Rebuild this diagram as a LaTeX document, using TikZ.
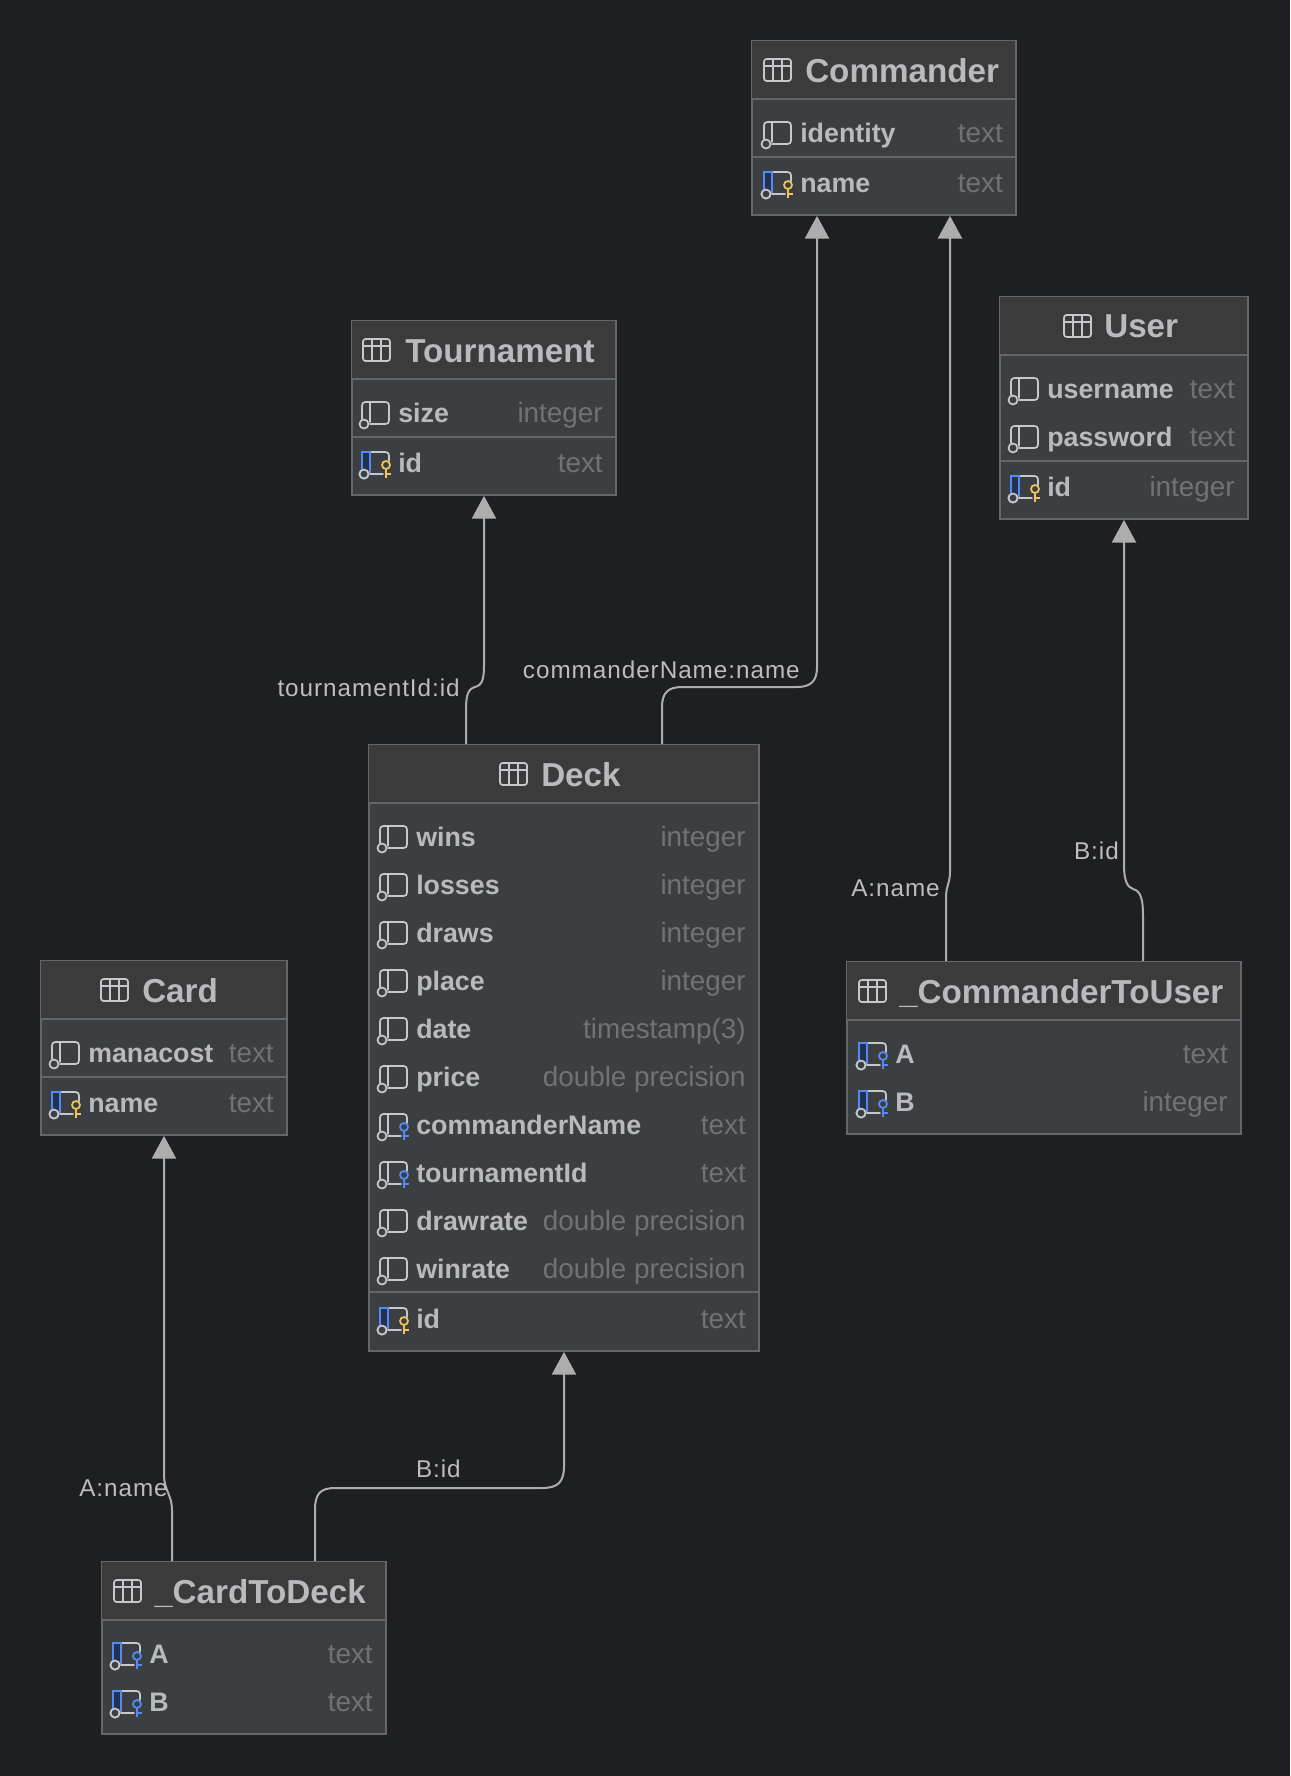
\documentclass[tikz,border=0pt]{standalone}
\usepackage{fontspec}
\setmainfont{Liberation Sans}
\usetikzlibrary{arrows.meta}
\newfontfamily\relfont[LetterSpace=4]{Liberation Sans}
\definecolor{canvas}{HTML}{1E1F22}
\definecolor{bodyfill}{HTML}{3C3F41}
\definecolor{headfill}{HTML}{3B3B3B}
\definecolor{edgegray}{HTML}{666666}
\definecolor{inkmain}{HTML}{B9B9BE}
\definecolor{inktype}{HTML}{6F7277}
\definecolor{inkrel}{HTML}{BDBDBD}
\definecolor{iconline}{HTML}{C6C8CE}
\definecolor{keyblue}{HTML}{548AF7}
\definecolor{keygold}{HTML}{F2C55C}
\definecolor{pkshade}{HTML}{25324D}
\definecolor{wire}{HTML}{ADADAD}
\tikzset{
  x=0.75pt, y=-0.75pt,
  tablebox/.style={draw=edgegray, fill=bodyfill, line width=1.3pt, inner sep=0pt, rectangle},
  divider/.style={draw=edgegray, line width=1.3pt},
  titletext/.style={font=\fontsize{24.9}{25}\selectfont\bfseries, text=inkmain, anchor=base west, inner sep=0pt},
  nametext/.style={font=\fontsize{20.1}{21}\selectfont\bfseries, text=inkmain, anchor=base west, inner sep=0pt},
  typetext/.style={font=\fontsize{20.9}{21}\selectfont, text=inktype, anchor=base east, inner sep=0pt},
  reltext/.style={font=\relfont\fontsize{18.2}{19}\selectfont, text=inkrel, anchor=base east, inner sep=0pt},
  icon/.style={draw=iconline, line width=1.3pt, line cap=round},
  wirearrow/.style={draw=wire, line width=1.5pt, rounded corners=0pt, -{Triangle[width=18pt,length=17pt,fill=wire]}},
}
% Table frame with its header band and title icon
\newcommand{\tableframe}[8]{% name, x0, y0, x1, y1, divider y, icon x, title x
  \node[tablebox, minimum width={(#4-#2)*0.75pt}, minimum height={(#5-#3)*0.75pt}] (#1) at ({(#2+#4)/2},{(#3+#5)/2}) {};
  \fill[headfill] ([shift={(1,1)}]#1.north west) rectangle (#4-1,#6);
  \draw[divider] (#1.west |- 0,#6) -- (#1.east |- 0,#6);
  \begin{scope}[shift={(#7,{(#3+#6)/2})}]
    \draw[icon, rounded corners=2pt] (0,-11) rectangle (27,11);
    \draw[icon] (0,-4) -- (27,-4) (9,-11) -- (9,11) (18,-11) -- (18,11);
  \end{scope}
}
% Outline of the column glyph; the third argument is 1 when a key sits beside it
\newcommand{\colglyph}[3]{% x, y, plain/key
  \begin{scope}[shift={(#1,#2)}]
    \ifnum#3=0
      \draw[icon, rounded corners=2.5pt] (8,11) -- (27,11) -- (27,-11) -- (0,-11) -- (0,6);
    \else
      \draw[icon] (8,11) -- (21,11);
      \draw[icon, rounded corners=2.5pt] (27,-2) -- (27,-11) -- (0,-11) -- (0,6);
    \fi
    \draw[icon] (8,-11) -- (8,9);
    \draw[icon, fill=bodyfill] (2,11) circle (4.5);
  \end{scope}
}
% Small key drawn beside a column glyph
\newcommand{\keymark}[3]{% x, y, colour
  \begin{scope}[shift={(#1,#2)}]
    \draw[draw=#3, line width=1.3pt] (24,2) circle (4);
    \draw[draw=#3, line width=1.4pt] (24,6) -- (24,15) (24,11) -- (29,11);
  \end{scope}
}
% Blue marking of a primary-key column
\newcommand{\pkmark}[2]{% x, y
  \begin{scope}[shift={(#1,#2)}]
    \fill[pkshade] (0,-11) rectangle (8,8);
    \draw[draw=keyblue, line width=1.4pt, line cap=round] (0,6) -- (0,-11) -- (8,-11) -- (8,9);
    \draw[icon, fill=bodyfill] (2,11) circle (4.5);
  \end{scope}
}
% One column row: node id, icon x, centre y, right text edge, kind, name, type
% kind: 0 plain, 1 foreign key, 2 primary key, 3 primary and foreign key
\newcommand{\colrow}[7]{%
  \ifnum#5=0 \colglyph{#2}{#3}{0}\else\colglyph{#2}{#3}{1}\fi
  \ifnum#5=1 \keymark{#2}{#3}{keyblue}\fi
  \ifnum#5=2 \pkmark{#2}{#3}\keymark{#2}{#3}{keygold}\fi
  \ifnum#5=3 \pkmark{#2}{#3}\keymark{#2}{#3}{keyblue}\fi
  \node[nametext] (#1n) at (#2+36,#3+9.5) {#6};
  \node[typetext] (#1t) at (#4,#3+9.5) {#7};
}
\begin{document}
\begin{tikzpicture}
  \fill[canvas] (0,0) rectangle (1290,1776);
  \useasboundingbox (0,0) rectangle (1290,1776);

  % Commander
  \tableframe{commander}{752}{41}{1016}{215}{99}{764}{805}
  \node[titletext] (commandertitle) at (805,83) {Commander};
  \colrow{cmdidentity}{764}{133}{1003}{0}{identity}{text}
  \draw[divider] (commander.west |- 0,157) -- (commander.east |- 0,157);
  \colrow{cmdname}{764}{183}{1003}{2}{name}{text}

  % Tournament
  \tableframe{tournament}{352}{321}{616}{495}{379}{363}{405}
  \node[titletext] (tournamenttitle) at (405,362) {Tournament};
  \colrow{tsize}{362}{413}{603}{0}{size}{integer}
  \draw[divider] (tournament.west |- 0,437) -- (tournament.east |- 0,437);
  \colrow{tid}{362}{463}{603}{2}{id}{text}

  % User
  \tableframe{user}{1000}{297}{1248}{519}{355}{1064}{1104}
  \node[titletext] (usertitle) at (1104,338) {User};
  \colrow{uname}{1011}{389}{1235}{0}{username}{text}
  \colrow{upass}{1011}{437}{1235}{0}{password}{text}
  \draw[divider] (user.west |- 0,461) -- (user.east |- 0,461);
  \colrow{uid}{1011}{487}{1235}{2}{id}{integer}

  % Deck
  \tableframe{deck}{369}{745}{759}{1351}{803}{500}{541}
  \node[titletext] (decktitle) at (541,786) {Deck};
  \colrow{dwins}{380}{837}{746}{0}{wins}{integer}
  \colrow{dlosses}{380}{885}{746}{0}{losses}{integer}
  \colrow{ddraws}{380}{933}{746}{0}{draws}{integer}
  \colrow{dplace}{380}{981}{746}{0}{place}{integer}
  \colrow{ddate}{380}{1029}{746}{0}{date}{timestamp(3)}
  \colrow{dprice}{380}{1077}{746}{0}{price}{double precision}
  \colrow{dcmd}{380}{1125}{746}{1}{commanderName}{text}
  \colrow{dtour}{380}{1173}{746}{1}{tournamentId}{text}
  \colrow{ddrawrate}{380}{1221}{746}{0}{drawrate}{double precision}
  \colrow{dwinrate}{380}{1269}{746}{0}{winrate}{double precision}
  \draw[divider] (deck.west |- 0,1292) -- (deck.east |- 0,1292);
  \colrow{did}{380}{1319}{746}{2}{id}{text}

  % Card
  \tableframe{card}{41}{961}{287}{1135}{1019}{101}{142}
  \node[titletext] (cardtitle) at (142,1002) {Card};
  \colrow{cmana}{52}{1053}{274}{0}{manacost}{text}
  \draw[divider] (card.west |- 0,1077) -- (card.east |- 0,1077);
  \colrow{cname}{52}{1103}{274}{2}{name}{text}

  % _CommanderToUser
  \tableframe{cmduser}{847}{962}{1241}{1134}{1020}{859}{899}
  \node[titletext] (cmdusertitle) at (899,1003) {\_CommanderToUser};
  \colrow{cua}{859}{1054}{1228}{3}{A}{text}
  \colrow{cub}{859}{1102}{1228}{3}{B}{integer}

  % _CardToDeck
  \tableframe{carddeck}{102}{1562}{386}{1734}{1620}{114}{154}
  \node[titletext] (carddecktitle) at (154,1603) {\_CardToDeck};
  \colrow{cda}{113}{1654}{373}{3}{A}{text}
  \colrow{cdb}{113}{1702}{373}{3}{B}{text}

  % Relations between the tables
  \draw[wirearrow] ([xshift=-73.5pt]deck.north) -- (466,710)
    .. controls (466,695) and (468,689) .. (475,687)
    .. controls (482,685) and (484,680) .. (484,665)
    -- (tournament.south);
  \draw[wirearrow] ([xshift=73.5pt]deck.north) -- (662,707)
    .. controls (662,693) and (668,687) .. (682,687) -- (797,687)
    .. controls (811,687) and (817,681) .. (817,667)
    -- ([xshift=-50.25pt]commander.south);
  \draw[wirearrow] ([xshift=-73.5pt]cmduser.north) -- (946,895)
    .. controls (946,888) and (950,882) .. (950,872)
    -- ([xshift=49.5pt]commander.south);
  \draw[wirearrow] ([xshift=74.25pt]cmduser.north) -- (1143,915)
    .. controls (1143,900) and (1141,891) .. (1133,889)
    .. controls (1127,887) and (1124,880) .. (1124,865)
    -- (user.south);
  \draw[wirearrow] ([xshift=-54pt]carddeck.north) -- (172,1510)
    .. controls (172,1495) and (164,1490) .. (164,1475)
    -- (card.south);
  \draw[wirearrow] ([xshift=53.25pt]carddeck.north) -- (315,1510)
    .. controls (315,1494) and (320,1488) .. (335,1488) -- (542,1488)
    .. controls (558,1488) and (564,1482) .. (564,1466)
    -- (deck.south);

  % Relation labels
  \node[reltext] (ltour) at (460,696) {tournamentId:id};
  \node[reltext] (lcmd) at (800,678) {commanderName:name};
  \node[reltext] (lcua) at (940,896) {A:name};
  \node[reltext] (lcub) at (1119,859) {B:id};
  \node[reltext] (lcda) at (168,1496) {A:name};
  \node[reltext] (lcdb) at (461,1477) {B:id};
\end{tikzpicture}
\end{document}
